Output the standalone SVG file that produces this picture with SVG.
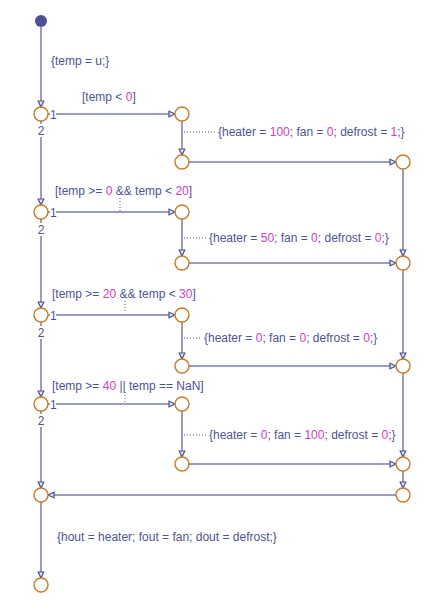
<svg xmlns="http://www.w3.org/2000/svg" width="434" height="609" viewBox="0 0 434 609">
<style>
.ln{stroke:#9c9cbd;stroke-width:2;fill:none}
.dot{stroke:#55559a;stroke-width:1;stroke-dasharray:1 2;fill:none}
.j{fill:#fff;stroke:#cc7a22;stroke-width:1.4}
.t{font-family:"Liberation Sans",Arial,sans-serif;font-size:12px;fill:#4f5396}
.n{fill:#d23cc3}
.bg{fill:#fff}
</style>
<defs>
<marker id="ah" markerUnits="userSpaceOnUse" markerWidth="10" markerHeight="10" refX="7" refY="5" orient="auto">
<path d="M1,2.2 L7,5 L1,7.8 Z" fill="#e6e6f2" stroke="#4a4f92" stroke-width="1.2"/>
</marker>
</defs>
<rect width="434" height="609" fill="#fff"/>
<g id="connectors">
<line class="ln" x1="41" y1="27" x2="41" y2="107" marker-end="url(#ah)"/>
<line class="ln" x1="48" y1="114" x2="175" y2="114" marker-end="url(#ah)"/>
<line class="ln" x1="182" y1="121" x2="182" y2="155" marker-end="url(#ah)"/>
<line class="ln" x1="189" y1="162" x2="396" y2="162" marker-end="url(#ah)"/>
<line class="ln" x1="41" y1="121" x2="41" y2="205" marker-end="url(#ah)"/>
<line class="ln" x1="48" y1="212" x2="175" y2="212" marker-end="url(#ah)"/>
<line class="ln" x1="182" y1="219" x2="182" y2="256" marker-end="url(#ah)"/>
<line class="ln" x1="189" y1="263" x2="396" y2="263" marker-end="url(#ah)"/>
<line class="ln" x1="403" y1="169" x2="403" y2="256" marker-end="url(#ah)"/>
<line class="ln" x1="41" y1="219" x2="41" y2="308" marker-end="url(#ah)"/>
<line class="ln" x1="48" y1="315" x2="175" y2="315" marker-end="url(#ah)"/>
<line class="ln" x1="182" y1="322" x2="182" y2="359" marker-end="url(#ah)"/>
<line class="ln" x1="189" y1="366" x2="396" y2="366" marker-end="url(#ah)"/>
<line class="ln" x1="403" y1="270" x2="403" y2="359" marker-end="url(#ah)"/>
<line class="ln" x1="41" y1="322" x2="41" y2="397" marker-end="url(#ah)"/>
<line class="ln" x1="48" y1="404" x2="175" y2="404" marker-end="url(#ah)"/>
<line class="ln" x1="182" y1="411" x2="182" y2="457" marker-end="url(#ah)"/>
<line class="ln" x1="189" y1="464" x2="396" y2="464" marker-end="url(#ah)"/>
<line class="ln" x1="403" y1="373" x2="403" y2="457" marker-end="url(#ah)"/>
<line class="ln" x1="403" y1="471" x2="403" y2="488" marker-end="url(#ah)"/>
<line class="ln" x1="396" y1="495" x2="48" y2="495" marker-end="url(#ah)"/>
<line class="ln" x1="41" y1="411" x2="41" y2="488" marker-end="url(#ah)"/>
<line class="ln" x1="41" y1="502" x2="41" y2="578" marker-end="url(#ah)"/>
<line class="dot" x1="184" y1="132" x2="216" y2="132"/>
<line class="dot" x1="184" y1="238" x2="207" y2="238"/>
<line class="dot" x1="184" y1="338" x2="202" y2="338"/>
<line class="dot" x1="184" y1="435" x2="207" y2="435"/>
<line class="dot" x1="120" y1="198" x2="120" y2="211"/>
<line class="dot" x1="125" y1="301" x2="125" y2="313"/>
<line class="dot" x1="125" y1="392" x2="125" y2="402"/>
</g>
<g id="labels">
<text class="t" x="51" y="65">{temp = u;}</text>
<text class="t" x="82" y="101">[temp &lt; <tspan class="n">0</tspan>]</text>
<text class="t" x="218" y="136">{heater = <tspan class="n">100</tspan>; fan = <tspan class="n">0</tspan>; defrost = <tspan class="n">1</tspan>;}</text>
<text class="t" x="55" y="195">[temp &gt;= <tspan class="n">0</tspan> &amp;&amp; temp &lt; <tspan class="n">20</tspan>]</text>
<text class="t" x="209" y="242">{heater = <tspan class="n">50</tspan>; fan = <tspan class="n">0</tspan>; defrost = <tspan class="n">0</tspan>;}</text>
<text class="t" x="52" y="298">[temp &gt;= <tspan class="n">20</tspan> &amp;&amp; temp &lt; <tspan class="n">30</tspan>]</text>
<text class="t" x="204" y="342">{heater = <tspan class="n">0</tspan>; fan = <tspan class="n">0</tspan>; defrost = <tspan class="n">0</tspan>;}</text>
<text class="t" x="52" y="390">[temp &gt;= <tspan class="n">40</tspan> || temp == NaN]</text>
<text class="t" x="209" y="439">{heater = <tspan class="n">0</tspan>; fan = <tspan class="n">100</tspan>; defrost = <tspan class="n">0</tspan>;}</text>
<text class="t" x="57" y="541">{hout = heater; fout = fan; dout = defrost;}</text>
<rect class="bg" x="50" y="108" width="6" height="12"/>
<text class="t" x="50" y="119">1</text>
<rect class="bg" x="37" y="124" width="8" height="13"/>
<text class="t" x="41" y="135" text-anchor="middle">2</text>
<rect class="bg" x="50" y="206" width="6" height="12"/>
<text class="t" x="50" y="217">1</text>
<rect class="bg" x="37" y="223" width="8" height="13"/>
<text class="t" x="41" y="234" text-anchor="middle">2</text>
<rect class="bg" x="50" y="309" width="6" height="12"/>
<text class="t" x="50" y="320">1</text>
<rect class="bg" x="37" y="326" width="8" height="13"/>
<text class="t" x="41" y="337" text-anchor="middle">2</text>
<rect class="bg" x="50" y="398" width="6" height="12"/>
<text class="t" x="50" y="409">1</text>
<rect class="bg" x="37" y="414" width="8" height="13"/>
<text class="t" x="41" y="425" text-anchor="middle">2</text>
</g>
<g id="start"><circle cx="41" cy="21" r="6" fill="#4b4f98"/></g>
<g id="j1"><circle class="j" cx="41" cy="114" r="7"/></g>
<g id="j2"><circle class="j" cx="182" cy="114" r="7"/></g>
<g id="j3"><circle class="j" cx="182" cy="162" r="7"/></g>
<g id="j4"><circle class="j" cx="403" cy="162" r="7"/></g>
<g id="j5"><circle class="j" cx="41" cy="212" r="7"/></g>
<g id="j6"><circle class="j" cx="182" cy="212" r="7"/></g>
<g id="j7"><circle class="j" cx="182" cy="263" r="7"/></g>
<g id="j8"><circle class="j" cx="403" cy="263" r="7"/></g>
<g id="j9"><circle class="j" cx="41" cy="315" r="7"/></g>
<g id="j10"><circle class="j" cx="182" cy="315" r="7"/></g>
<g id="j11"><circle class="j" cx="182" cy="366" r="7"/></g>
<g id="j12"><circle class="j" cx="403" cy="366" r="7"/></g>
<g id="j13"><circle class="j" cx="41" cy="404" r="7"/></g>
<g id="j14"><circle class="j" cx="182" cy="404" r="7"/></g>
<g id="j15"><circle class="j" cx="182" cy="464" r="7"/></g>
<g id="j16"><circle class="j" cx="403" cy="464" r="7"/></g>
<g id="j17"><circle class="j" cx="403" cy="495" r="7"/></g>
<g id="j18"><circle class="j" cx="41" cy="495" r="7"/></g>
<g id="j19"><circle class="j" cx="41" cy="585" r="7"/></g>
</svg>
